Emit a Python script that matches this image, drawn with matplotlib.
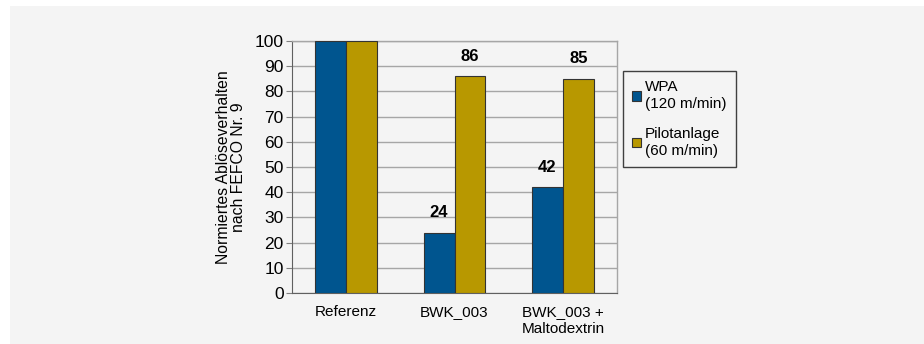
import matplotlib
matplotlib.use("Agg")
import matplotlib.pyplot as plt
import numpy as np
from matplotlib.patches import Rectangle

plt.rcParams['font.family'] = ['Liberation Sans', 'DejaVu Sans']

categories = ["Referenz", "BWK_003", "BWK_003 +\nMaltodextrin"]
series_names = ["WPA\n(120 m/min)", "Pilotanlage\n(60 m/min)"]
wpa = [100, 24, 42]
pilot = [100, 86, 85]
wpa_labels = [None, "24", "42"]
pilot_labels = [None, "86", "85"]
colors = ["#00558f", "#b89800"]
bg = "#f4f4f4"

fig = plt.figure(figsize=(9.24, 3.44), dpi=100, facecolor="white")
fig.patches.append(Rectangle((10 / 924, 0), 1, 1 - 6 / 344, transform=fig.transFigure,
                             facecolor=bg, edgecolor="none", zorder=-10))

ax = fig.add_axes([292 / 924, 1 - 293 / 344, 325 / 924, 252 / 344])
ax.set_facecolor(bg)

x = np.arange(len(categories))
w = 0.285
b1 = ax.bar(x - w / 2, wpa, w, color=colors[0], edgecolor="#333333", linewidth=0.8,
            label=series_names[0], zorder=3)
b2 = ax.bar(x + w / 2, pilot, w, color=colors[1], edgecolor="#333333", linewidth=0.8,
            label=series_names[1], zorder=3)

for rect, lab in zip(b1, wpa_labels):
    if lab:
        ax.text(rect.get_x() + rect.get_width() / 2, rect.get_height() + 5, lab,
                ha="center", va="bottom", fontsize=12, fontweight="bold")
for rect, lab in zip(b2, pilot_labels):
    if lab:
        ax.text(rect.get_x() + rect.get_width() / 2, rect.get_height() + 5, lab,
                ha="center", va="bottom", fontsize=12, fontweight="bold")

ax.set_xlim(-0.5, 2.5)
ax.set_ylim(0, 100)
ax.set_yticks(np.arange(0, 101, 10))
ax.tick_params(axis="y", labelsize=12.5, length=4, color="#808080", pad=2)
ax.tick_params(axis="x", labelsize=11, length=0, pad=9)
ax.set_xticks(x)
ax.set_xticklabels(categories, linespacing=1.2)
ax.yaxis.grid(True, color="#a6a6a6", linewidth=1.0, zorder=0)
ax.set_axisbelow(True)
for side in ["top", "right"]:
    ax.spines[side].set_color("#a6a6a6")
    ax.spines[side].set_linewidth(1.0)
ax.spines["left"].set_color("#606060")
ax.spines["bottom"].set_color("#606060")

ax.set_ylabel("Normiertes Ablöseverhalten\nnach FEFCO Nr. 9", fontsize=11.3, labelpad=6,
              linespacing=1.05)

leg = fig.legend(handles=[b1, b2], loc="upper left",
                 bbox_to_anchor=(623 / 924, 1 - 71 / 344), fontsize=11,
                 frameon=True, fancybox=False, edgecolor="#404040", facecolor=bg,
                 handlelength=0.55, handleheight=0.55, handletextpad=0.3,
                 labelspacing=1.0, borderpad=0.6, borderaxespad=0, framealpha=1)
for t in leg.get_texts():
    t.set_linespacing(1.3)
leg.get_frame().set_linewidth(1.0)

fig.savefig("out.png", dpi=100, facecolor="white")
